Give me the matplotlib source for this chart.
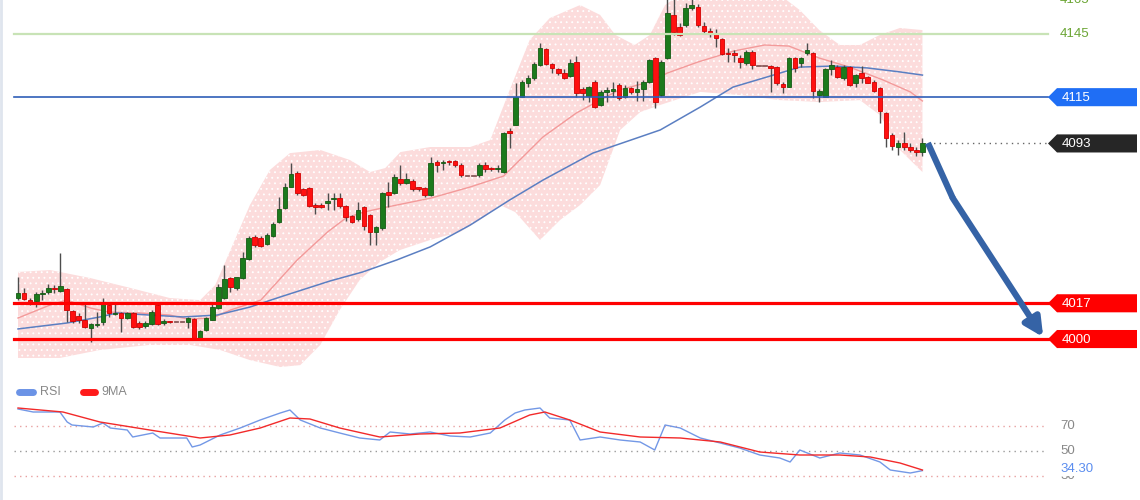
import matplotlib
matplotlib.use('Agg')
import matplotlib.pyplot as plt
import numpy as np
from matplotlib.patches import Polygon
from matplotlib.lines import Line2D
import matplotlib.transforms as mtransforms

plt.rcParams['font.family'] = ['Liberation Sans', 'DejaVu Sans']
plt.rcParams['hatch.linewidth'] = 0.6

# ---------------- data ----------------
opens = [4019.5, 4022.0, 4018.5, 4018.1, 4021.4, 4022.3, 4024.3, 4022.8, 4023.8, 4013.3,
         4010.9, 4009.0, 4005.2, 4006.5, 4008.1, 4016.2, 4011.9, 4012.4, 4010.0, 4012.4,
         4007.6, 4006.2, 4007.1, 4016.2, 4007.6, 4008.6, 4008.1, 4008.1, 4008.1, 4009.5,
         4000.5, 4004.3, 4009.0, 4014.7, 4019.5, 4029.0, 4024.3, 4029.0, 4038.0, 4048.5,
         4048.0, 4045.2, 4049.0, 4055.6, 4062.3, 4072.3, 4079.0, 4071.3, 4071.8, 4063.7,
         4063.7, 4064.7, 4066.5, 4067.0, 4063.2, 4058.5, 4057.1, 4062.8, 4059.0, 4050.9,
         4052.8, 4069.9, 4069.4, 4076.1, 4074.2, 4075.1, 4072.3, 4071.8, 4068.5, 4084.2,
         4083.7, 4084.6, 4084.6, 4082.7, 4077.5, 4077.5, 4078.0, 4082.7, 4081.3, 4080.8,
         4079.4, 4098.9, 4101.8, 4115.1, 4121.7, 4124.1, 4130.3, 4137.9, 4130.8, 4128.4,
         4126.5, 4125.1, 4131.7, 4118.9, 4115.6, 4122.2, 4111.3, 4117.5, 4117.9, 4120.8,
         4115.1, 4119.4, 4117.5, 4118.9, 4122.2, 4133.6, 4116.0, 4133.6, 4154.1, 4148.4,
         4149.3, 4157.4, 4157.9, 4148.8, 4146.5, 4145.5, 4142.7, 4136.0, 4136.0, 4133.6,
         4131.2, 4136.5, 4129.8, 4129.8, 4129.8, 4129.3, 4121.3, 4119.8, 4133.6, 4131.2,
         4136.0, 4136.0, 4116.0, 4115.1, 4128.4, 4129.3, 4124.1, 4129.3, 4121.7, 4126.5,
         4124.6, 4122.2, 4119.4, 4107.5, 4097.0, 4091.3, 4093.2, 4091.3, 4089.9, 4088.9]
closes = [4022.0, 4019.0, 4017.1, 4021.4, 4021.9, 4024.3, 4023.8, 4025.2, 4013.8, 4008.6,
          4009.0, 4005.7, 4007.1, 4006.9, 4017.1, 4012.4, 4012.4, 4010.0, 4012.4, 4005.7,
          4005.7, 4007.6, 4012.8, 4007.1, 4008.6, 4008.1, 4008.1, 4008.1, 4010.0, 4000.5,
          4003.8, 4010.0, 4015.2, 4024.7, 4028.5, 4024.7, 4029.5, 4038.5, 4048.0, 4044.7,
          4044.2, 4049.5, 4054.7, 4061.8, 4072.3, 4078.5, 4069.4, 4068.5, 4063.2, 4062.8,
          4062.8, 4065.6, 4066.7, 4063.2, 4058.0, 4055.6, 4061.3, 4053.7, 4050.9, 4053.3,
          4069.4, 4068.5, 4077.0, 4074.2, 4076.1, 4071.3, 4071.3, 4068.5, 4083.7, 4082.7,
          4084.2, 4084.2, 4082.7, 4078.0, 4077.5, 4077.5, 4082.7, 4080.8, 4080.8, 4081.3,
          4097.9, 4097.9, 4115.1, 4122.2, 4124.1, 4130.8, 4138.4, 4130.8, 4128.9, 4126.5,
          4124.1, 4131.2, 4117.0, 4117.0, 4119.8, 4110.3, 4117.5, 4118.4, 4118.9, 4114.6,
          4119.4, 4117.5, 4118.9, 4122.2, 4132.7, 4112.7, 4131.7, 4155.0, 4146.0, 4144.6,
          4157.4, 4158.8, 4149.3, 4146.5, 4145.5, 4143.1, 4135.5, 4135.5, 4135.0, 4131.7,
          4136.5, 4130.3, 4129.8, 4129.8, 4128.9, 4121.7, 4119.8, 4133.6, 4128.9, 4133.6,
          4137.4, 4117.9, 4117.9, 4128.4, 4130.3, 4124.6, 4129.3, 4120.8, 4125.5, 4124.1,
          4121.7, 4117.9, 4108.4, 4095.6, 4091.8, 4093.2, 4091.3, 4089.9, 4088.9, 4093.0]
highs = [4029.5, 4024.3, 4019.5, 4022.3, 4023.3, 4026.2, 4025.7, 4040.9, 4024.3, 4013.8,
         4012.4, 4017.1, 4007.6, 4012.8, 4019.5, 4017.1, 4017.1, 4012.8, 4012.8, 4012.8,
         4008.6, 4008.6, 4013.8, 4016.6, 4009.5, 4008.6, 4008.1, 4008.1, 4010.5, 4010.0,
         4004.3, 4010.5, 4016.6, 4026.2, 4035.2, 4029.5, 4029.7, 4041.4, 4049.0, 4049.5,
         4049.0, 4050.4, 4055.6, 4067.5, 4074.2, 4083.7, 4079.9, 4071.8, 4072.3, 4064.7,
         4064.7, 4069.4, 4069.4, 4069.4, 4063.7, 4059.0, 4065.1, 4063.2, 4059.4, 4053.7,
         4069.9, 4074.7, 4078.5, 4082.7, 4079.0, 4076.1, 4072.3, 4072.3, 4086.5, 4085.1,
         4085.1, 4085.1, 4085.1, 4083.7, 4077.5, 4077.5, 4083.7, 4084.2, 4081.8, 4082.7,
         4098.4, 4100.3, 4121.7, 4123.2, 4125.5, 4131.7, 4140.8, 4138.4, 4131.2, 4128.9,
         4128.4, 4133.1, 4134.6, 4119.8, 4120.3, 4123.2, 4118.4, 4119.8, 4122.2, 4121.7,
         4120.8, 4119.8, 4122.7, 4123.2, 4133.1, 4134.1, 4132.7, 4163.0, 4162.0, 4150.3,
         4159.8, 4161.5, 4159.3, 4150.7, 4147.9, 4147.4, 4143.1, 4138.4, 4137.4, 4135.0,
         4137.4, 4137.4, 4129.8, 4129.8, 4130.3, 4129.8, 4122.2, 4134.1, 4134.1, 4134.1,
         4140.8, 4136.5, 4118.9, 4128.9, 4132.7, 4130.3, 4130.3, 4129.8, 4126.0, 4129.8,
         4125.1, 4123.2, 4119.8, 4108.0, 4098.0, 4094.6, 4098.4, 4093.2, 4091.3, 4095.6]
lows = [4018.5, 4018.5, 4016.2, 4015.2, 4018.5, 4021.4, 4021.9, 4022.3, 4008.1, 4007.6,
        4007.6, 4005.2, 3998.6, 4005.7, 4006.7, 4010.5, 4011.4, 4003.3, 4009.5, 4005.2,
        4004.8, 4005.2, 4006.7, 4006.7, 4006.7, 4007.6, 4008.1, 4008.1, 4005.2, 4000.0,
        4000.0, 4003.8, 4009.0, 4014.3, 4019.0, 4022.3, 4023.3, 4028.5, 4037.6, 4043.8,
        4043.8, 4044.7, 4048.5, 4055.2, 4061.8, 4072.3, 4068.5, 4068.0, 4062.8, 4059.4,
        4062.3, 4061.3, 4061.3, 4062.3, 4056.1, 4055.2, 4056.1, 4051.8, 4044.7, 4044.7,
        4051.8, 4062.8, 4069.0, 4073.2, 4073.7, 4070.4, 4070.4, 4067.5, 4068.0, 4079.4,
        4080.4, 4082.7, 4081.8, 4077.0, 4077.5, 4077.5, 4077.0, 4079.4, 4079.9, 4079.4,
        4078.9, 4090.8, 4101.8, 4115.1, 4119.8, 4123.2, 4129.8, 4130.3, 4126.5, 4125.5,
        4123.6, 4124.6, 4115.1, 4113.6, 4112.7, 4109.8, 4110.8, 4112.7, 4115.1, 4113.6,
        4114.6, 4116.5, 4113.2, 4113.2, 4121.7, 4109.8, 4115.6, 4133.3, 4144.6, 4144.1,
        4148.4, 4156.4, 4148.4, 4145.5, 4143.6, 4138.9, 4135.0, 4131.7, 4131.7, 4128.9,
        4130.3, 4128.4, 4129.8, 4129.8, 4117.5, 4120.8, 4117.0, 4119.8, 4127.0, 4129.3,
        4135.0, 4114.6, 4112.7, 4115.1, 4125.5, 4124.1, 4123.2, 4120.3, 4119.8, 4121.7,
        4121.7, 4117.5, 4102.7, 4091.3, 4089.9, 4087.5, 4089.9, 4088.9, 4087.0, 4087.0]

# Bollinger envelope (read at sample bars)
band_up_x = [0, 5.3, 11.9, 18.5, 25, 30, 32.5, 35, 38.2, 41.5, 44.8, 49.8, 54.7, 58, 60.5, 63,
             67.9, 74.5, 77.8, 81, 84.3, 87.6, 92.6, 95.9, 98.4, 101.6, 104.1, 106.6, 109,
             125.5, 128.8, 132, 135.4, 138.7, 142, 145.3, 149]
band_up = [4031.9, 4032.8, 4029.0, 4024.3, 4019.5, 4018.5, 4025.7, 4042.3, 4063.7, 4080.4,
           4088.4, 4089.9, 4085.1, 4079.4, 4081.3, 4088.9, 4091.3, 4091.3, 4094.6, 4118.4,
           4142.2, 4152.6, 4158.8, 4154.1, 4144.6, 4139.8, 4144.6, 4158.8, 4163.6, 4163.6,
           4156.4, 4146.9, 4139.8, 4139.8, 4144.6, 4147.9, 4146.9]
band_lo_x = [0, 6.9, 13.5, 21.7, 28.3, 33.3, 38.2, 43.2, 46.5, 49.8, 53, 56.3, 59.6, 62.9,
             67.9, 72.8, 76.1, 79.4, 81.9, 86, 89.3, 92.6, 95.9, 99.2, 102.5, 105.8, 112.4,
             118.9, 125.5, 132.1, 138.7, 142, 145.3, 149]
band_lo = [3991.0, 3991.0, 3994.8, 3997.2, 3997.2, 3994.8, 3990.0, 3986.7, 3987.6, 3997.2,
           4013.8, 4028.1, 4036.6, 4042.3, 4047.1, 4050.9, 4056.6, 4063.7, 4060.4, 4047.1,
           4056.6, 4063.7, 4073.2, 4099.4, 4107.9, 4111.3, 4117.5, 4116.0, 4113.6, 4112.7,
           4113.6, 4106.5, 4089.9, 4079.4]
mid_x = [0, 5.3, 8, 12, 15, 20, 25, 28, 32, 35, 40, 46, 51, 54, 57, 60, 68, 74.5, 80, 86.5,
         92, 95, 99, 104, 107, 112, 118, 123, 127, 132, 137, 142.5, 147, 149]
mid_vals = [4010.0, 4016.2, 4018.5, 4014.7, 4012.8, 4012.4, 4011.4, 4009.5, 4010.0, 4013.8,
            4018.5, 4037.6, 4050.9, 4057.5, 4060.4, 4062.3, 4067.0, 4072.3, 4077.5, 4096.1,
            4107.5, 4112.2, 4118.4, 4122.2, 4126.5, 4131.7, 4137.0, 4139.8, 4139.3, 4133.6,
            4129.3, 4123.2, 4117.5, 4113.2]
ma_x = [0, 8, 13.5, 16.3, 21.7, 27.2, 32.8, 38.2, 43.2, 51.4, 56.8, 62.4, 67.9, 74.5, 81,
        86.5, 94.7, 105.8, 112.4, 117.8, 123.4, 128.8, 134.3, 139.9, 145.3, 149]
ma_vals = [4004.8, 4007.6, 4010.5, 4012.4, 4011.4, 4010.5, 4011.4, 4015.2, 4020.0, 4027.6,
           4031.9, 4037.6, 4043.8, 4054.2, 4066.1, 4075.6, 4088.4, 4099.4, 4110.3, 4119.8,
           4124.6, 4129.3, 4129.8, 4128.9, 4127.0, 4125.5]

# price levels
level_green = 4145
level_blue = 4115
level_last = 4093
support_levels = [4017, 4000]
top_label = "4165"

# forecast arrow (bar index, price)
arrow_x = [149.9, 154.0, 168.9]
arrow_y = [4093.2, 4067.0, 4000.9]

# RSI panel
rsi_x = [0, 2.5, 6.9, 8.1, 8.9, 12.4, 14, 15.2, 18, 18.9, 22.2, 23.4, 27.8, 28.7, 30, 33.3,
         36.6, 39.9, 43.2, 44.8, 46.5, 49.8, 53, 56.3, 59.6, 61.3, 64.6, 67.9, 71.2, 74.5,
         77.8, 80.2, 81.9, 83.5, 86, 87.6, 90.9, 92.6, 95.9, 99.2, 102.5, 104.9, 106.6,
         109.1, 112.4, 115.7, 118.9, 122.2, 125.5, 127.2, 128.8, 132.1, 135.4, 138.7, 142,
         143.7, 147, 149]
rsi_vals = [83.6, 81.2, 81.2, 73.2, 70.8, 69.2, 72.4, 68.4, 66.8, 61.2, 64.4, 60.4, 60.4,
            53.2, 54.8, 62.8, 68.4, 74.8, 80.4, 82.8, 74.8, 68.4, 64.4, 60.4, 58.8, 65.2,
            63.6, 65.2, 62.0, 61.2, 64.4, 74.8, 80.4, 82.8, 84.4, 76.4, 74.8, 58.8, 61.2,
            58.8, 57.2, 50.8, 70.8, 68.4, 60.4, 56.4, 52.4, 46.8, 44.4, 41.2, 50.8, 44.4,
            48.4, 46.8, 41.2, 34.8, 32.4, 34.3]
rsi_ma_x = [0, 7.4, 13.5, 21.7, 30, 34.9, 39.9, 44.8, 48.1, 53, 59.6, 66.2, 72.8, 79.4, 84.3,
            86.8, 90.9, 95.9, 102.5, 109.1, 115.7, 122.2, 128.8, 135.4, 140.4, 145.3, 149]
rsi_ma_vals = [84.4, 81.2, 73.2, 66.8, 60.4, 62.8, 68.4, 76.4, 75.6, 68.4, 61.2, 63.6, 64.4,
               68.4, 78.8, 81.2, 74.8, 65.2, 61.2, 60.4, 57.2, 49.2, 46.8, 46.8, 45.2, 40.4,
               34.8]
rsi_levels = [70, 50, 30]
rsi_last = 34.30

# ---------------- figure ----------------
W, H = 1140, 500
fig = plt.figure(figsize=(W / 100, H / 100), dpi=100)
fig.patch.set_facecolor('white')

PX0, DPX = 18.0, 6.07          # pixel of first bar and bar spacing


def bx(px):
    return (px - PX0) / DPX


xlim = (bx(0), bx(W))

ax = fig.add_axes([0, 125 / H, 1, 375 / H])
ax.set_xlim(*xlim)
ax.set_ylim(3982.9, 4161.2)
ax.axis('off')

# band
poly_pts = list(zip(band_up_x, band_up)) + list(zip(band_lo_x[::-1], band_lo[::-1]))
band = Polygon(poly_pts, closed=True, facecolor='#fcdcdc', edgecolor='white',
               hatch='...', linewidth=0, zorder=1)
ax.add_patch(band)
ax.plot(mid_x, mid_vals, color='#f39a9a', lw=1.0, zorder=2)
ax.plot(ma_x, ma_vals, color='#5b7fc2', lw=1.1, zorder=2)

# candles
idx = np.arange(len(opens))
o = np.array(opens); c = np.array(closes); h = np.array(highs); l = np.array(lows)
ax.vlines(idx, l, h, color='#4d4d4d', lw=1.0, zorder=3)
body_bot = np.minimum(o, c)
body_h = np.maximum(np.abs(c - o), 0.6)
cols = np.where(c > o, '#1c7a1c', np.where(c < o, '#ff1010', '#8a5a5a'))
edges = np.where(c > o, '#145a14', np.where(c < o, '#d00000', '#8a5a5a'))
ax.bar(idx, body_h, bottom=body_bot, width=0.76, color=cols, edgecolor=edges,
       linewidth=0.6, zorder=4)

# horizontal levels
lx0, lx1 = bx(14), bx(1048)
ax.plot([lx0, lx1], [level_green] * 2, color='#c8e3b6', lw=1.6, zorder=5)
ax.plot([lx0, lx1], [level_blue] * 2, color='#2f5fb8', lw=1.2, zorder=5)
for lv in support_levels:
    ax.plot([lx0, lx1], [lv] * 2, color='#ff0000', lw=2.3, zorder=5)
ax.plot([bx(928), lx1], [level_last] * 2, color='#666666', lw=1.0,
        linestyle=(0, (1, 3)), zorder=5)

# tags on the right
trans = mtransforms.blended_transform_factory(fig.transFigure, ax.transData)
hh = 4.3


def tag(y, txt, color):
    pts = [(1048 / W, y), (1057 / W, y + hh), (1137 / W, y + hh),
           (1137 / W, y - hh), (1057 / W, y - hh)]
    ax.add_patch(Polygon(pts, closed=True, facecolor=color, edgecolor='none',
                         transform=trans, clip_on=False, zorder=6))
    ax.text(1062 / W, y - 0.3, txt, transform=trans, color='white', fontsize=9.5,
            va='center', ha='left', zorder=7, clip_on=False)


tag(level_blue, str(level_blue), '#1f6ef5')
tag(level_last, str(level_last), '#262626')
for lv in support_levels:
    tag(lv, str(lv), '#ff0000')
ax.text(1060 / W, level_green, str(level_green), transform=trans, color='#6ba534',
        fontsize=9.5, va='center', ha='left', clip_on=False)
# partially visible label at the very top edge
fig.text(1060 / W, 1 - 6 / H, top_label, color='#6ba534', fontsize=9.5,
         va='bottom', ha='left')

# forecast arrow
ax.plot(arrow_x[:2], arrow_y[:2], color='#3563a6', lw=4.5, solid_capstyle='butt', zorder=8)
ax.annotate('', xy=(arrow_x[2], arrow_y[2]), xytext=(arrow_x[1], arrow_y[1]),
            arrowprops=dict(arrowstyle='-|>,head_length=1.1,head_width=0.55',
                            color='#3563a6', lw=4.5, shrinkA=0, shrinkB=0),
            zorder=8, annotation_clip=False)

# ---------------- RSI panel ----------------
rax = fig.add_axes([0, 0, 1, 120 / H])
rax.set_xlim(*xlim)
rax.set_ylim(10.8, 106.8)
rax.axis('off')
rtrans = mtransforms.blended_transform_factory(fig.transFigure, rax.transData)
lvl_cols = {70: '#e8a0a0', 50: '#9a9a9a', 30: '#e8a0a0'}
for lv in rsi_levels:
    rax.plot([bx(14), bx(1045)], [lv] * 2, color=lvl_cols[lv], lw=1.0,
             linestyle=(0, (1, 3)), zorder=1)
    rax.text(1060 / W, lv, str(lv), transform=rtrans, color='#888888', fontsize=9.5,
             va='center', ha='left', clip_on=False)
rax.plot(rsi_x, rsi_vals, color='#7398e6', lw=1.0, zorder=2)
rax.plot(rsi_ma_x, rsi_ma_vals, color='#f22a2a', lw=1.0, zorder=3)
rax.text(1060 / W, rsi_last + 1.5, f"{rsi_last:.2f}", transform=rtrans,
         color='#5b8def', fontsize=9.5, va='center', ha='left', clip_on=False,
         bbox=dict(facecolor='white', edgecolor='none', pad=1.0), zorder=5)

# legend
ly = 1 - 392 / H
fig.add_artist(Line2D([19 / W, 33 / W], [ly, ly], color='#6b93e6', lw=5,
                      solid_capstyle='round'))
fig.text(40 / W, ly, 'RSI', color='#888888', fontsize=9, va='center', ha='left')
fig.add_artist(Line2D([83 / W, 95 / W], [ly, ly], color='#ff1a1a', lw=5,
                      solid_capstyle='round'))
fig.text(101 / W, ly, '9MA', color='#888888', fontsize=9, va='center', ha='left')

# thin left border
fig.add_artist(Line2D([1 / W, 1 / W], [0, 1], color='#dfe5ee', lw=2))

fig.savefig('out.png', dpi=100, facecolor='white')
